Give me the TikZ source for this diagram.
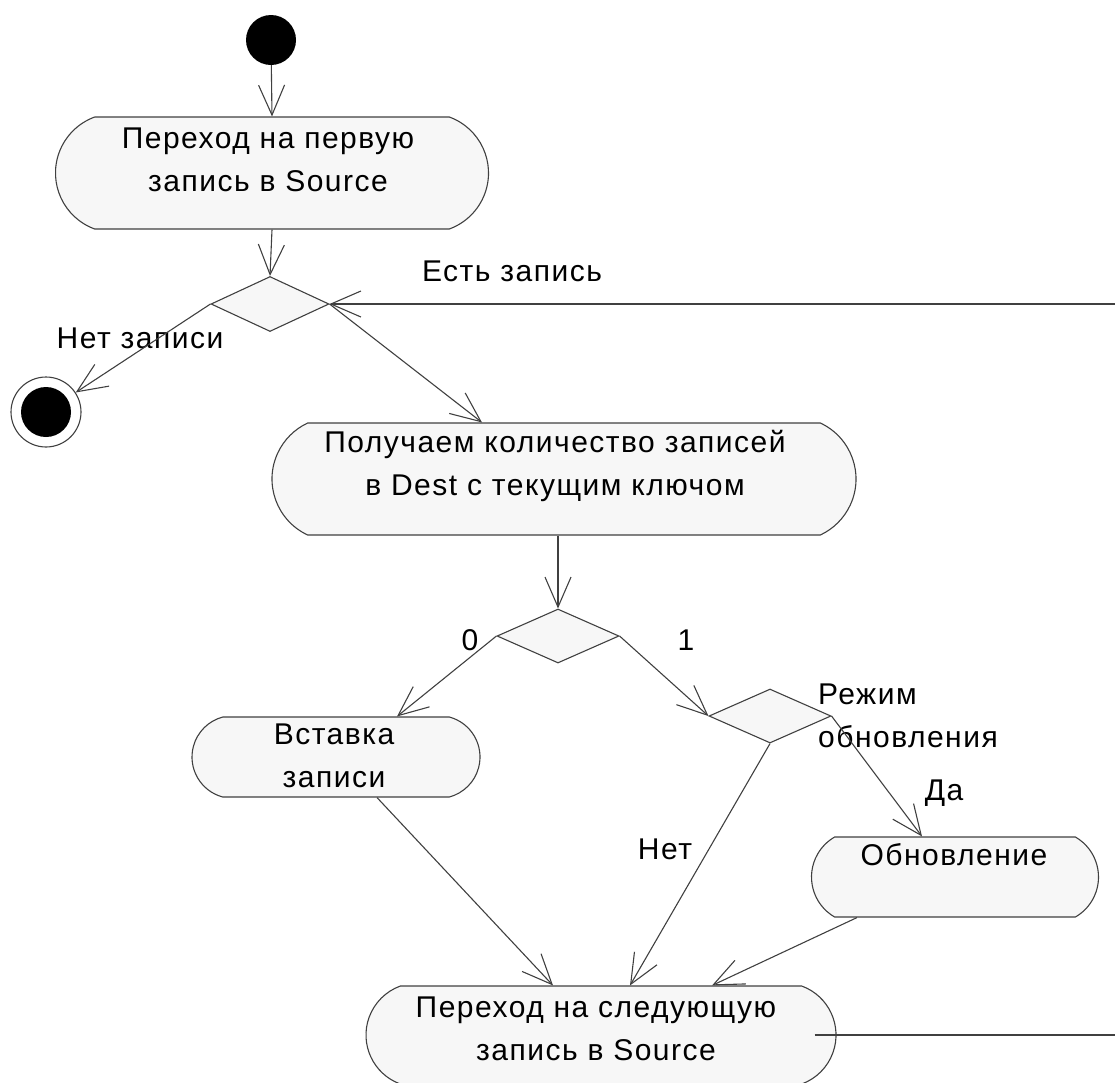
\documentclass[tikz,border=0pt]{standalone}
\usepackage{fontspec}
\setmainfont{Liberation Sans}[LetterSpace=5]
\usetikzlibrary{shapes.misc,shapes.geometric,arrows.meta,calc}
\begin{document}
\begin{tikzpicture}[x=1pt,y=-1pt,
  line/.style={draw=black!75, line width=1.1pt},
  flow/.style={line, -{Straight Barb[length=30pt,width=26pt]}},
  activity/.style={rounded rectangle, draw=black!75, line width=1.1pt, fill=black!3, inner sep=0pt},
  decision/.style={diamond, draw=black!75, line width=1.1pt, fill=black!3, inner sep=0pt},
  dot/.style={circle, fill=black, minimum size=50pt, inner sep=0pt},
  txt/.style={inner sep=0pt, align=center, font=\fontsize{30}{43}\selectfont},
]
\path[use as bounding box] (0,0) rectangle (1115,1082);
\clip (0,0) rectangle (1115,1082);

% initial and final states
\node[dot] (start) at (271,40) {};
\node[circle, draw=black!75, line width=1.1pt, minimum size=70pt, inner sep=0pt] (endo) at (46,412) {};
\node[dot] (endi) at (endo) {};

% activities
\node[activity, minimum width=433pt, minimum height=112pt, rounded rectangle arc length=140] (b1) at (272,173) {};
\node[txt] (b1t) at (268,160) {Переход на первую\\запись в Source};

\node[activity, minimum width=584pt, minimum height=112pt, rounded rectangle arc length=130] (b2) at (564,479) {};
\node[txt] (b2t) at (555,466) {Получаем количество записей\\в Dest с текущим ключом};

\node[activity, minimum width=288pt, minimum height=80pt, rounded rectangle arc length=150] (b3) at (336,757) {};
\node[txt] (b3t) at (334,756) {Вставка\\записи};

\node[activity, minimum width=287pt, minimum height=80pt, rounded rectangle arc length=120] (b4) at (955,877) {};
\node[txt] (b4t) at (954,855) {Обновление};

\node[activity, minimum width=470pt, minimum height=98pt, rounded rectangle arc length=140] (b5) at (601,1035) {};
\node[txt] (b5t) at (596,1029) {Переход на следующую\\запись в Source};

% decisions
\node[decision, minimum width=118pt, minimum height=55pt] (d1) at (270,304) {};
\node[decision, minimum width=122pt, minimum height=54pt] (d2) at (558,636) {};
\node[decision, minimum width=122pt, minimum height=54pt] (d3) at (770,716) {};

% guard labels
\node[txt] (lyes) at (512,271) {Есть запись};
\node[txt] (lno) at (140,338) {Нет записи};
\node[txt] (l0) at (470,640) {0};
\node[txt] (l1) at (686,640) {1};
\node[txt, align=left, anchor=north west] (lmode) at (818,684) {Режим\\обновления};
\node[txt] (lda) at (944,793) {Да};
\node[txt] (lnet) at (665,849) {Нет};

% loop ends leaving the sheet on the right
\coordinate (inR) at (1120,304);
\coordinate (outR) at (1120,1035);

% transitions
\draw[flow] (start) -- (b1.north);
\draw[flow] (b1.south) -- (d1.north);
\draw[flow] (d1.west) -- (endo);
\draw[flow] (d1.east) -- ($(b2.north)+(-82,0)$);
\draw[flow] (inR) -- (d1.east);
\draw[flow] (d2.north |- b2.south) -- (d2.north);
\draw[flow] (d2.west) -- ($(b3.north)+(61,0)$);
\draw[flow] (d2.east) -- (d3.west);
\draw[flow] ($(b3.south)+(41,0)$) -- ($(b5.north)+(-48,0)$);
\draw[flow] (d3.east) -- ($(b4.north)+(-33,0)$);
\draw[flow] (d3.south) -- ($(b5.north)+(29,0)$);
\draw[flow] ($(b4.south)+(-98,0)$) -- ($(b5.north)+(111,0)$);
\draw[line] ($(b5.east)+(-22,0)$) -- (outR);
\end{tikzpicture}
\end{document}
